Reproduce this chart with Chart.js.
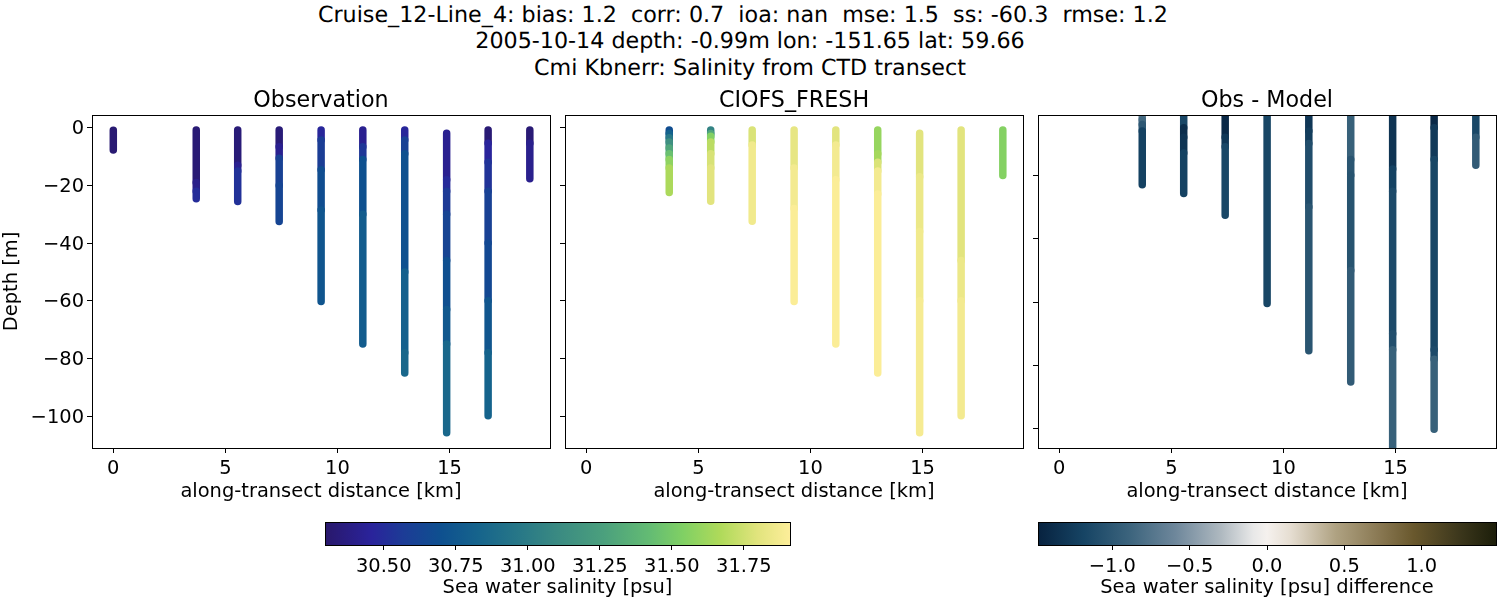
<!DOCTYPE html>
<html><head><meta charset="utf-8">
<script src="https://cdn.jsdelivr.net/npm/chart.js@4"></script>
<style>
html,body{margin:0;padding:0;background:#fff;width:1500px;height:600px;overflow:hidden}
canvas{position:absolute}
.sup{position:absolute;left:0;width:1500px;text-align:center;white-space:pre;font:22.22px/26.6px "DejaVu Sans";color:#000;text-rendering:geometricPrecision}
</style></head><body>
<div class="sup" style="top:1.6px">Cruise_12-Line_4: bias: 1.2  corr: 0.7  ioa: nan  mse: 1.5  ss: -60.3  rmse: 1.2  </div>
<div class="sup" style="top:28.2px">2005-10-14 depth: -0.99m lon: -151.65 lat: 59.66</div>
<div class="sup" style="top:54.8px">Cmi Kbnerr: Salinity from CTD transect</div>
<canvas id="p1"></canvas><canvas id="p2"></canvas><canvas id="p3"></canvas><canvas id="c1"></canvas><canvas id="c2"></canvas>
<script>
const stations=[0,3.7,5.55,7.4,9.27,11.13,13,14.87,16.72,18.58];
const xTicksStep=5, yTicksStep=20;
const salinityRange=[30.296,31.91], diffRange=[-1.481,1.481];

const obsDepth=[
[-0.9,-7.7],
[-0.8,-19,-22,-24.6],
[-0.8,-13,-15,-25.6],
[-0.8,-6.6,-10.6,-20,-32.5],
[-0.8,-4.3,-14.6,-28.5,-60.2],
[-0.8,-6.6,-11,-30,-75],
[-0.8,-4.3,-9,-50,-78,-85],
[-1.9,-18,-22,-30,-46,-63,-75,-105.7],
[-0.8,-5.4,-12,-22,-40,-60,-78,-99.8],
[-0.8,-5.4,-17.7]];
const obsSalinity=[
[30.32,30.32],
[30.33,30.33,30.40,30.5],
[30.34,30.34,30.42,30.52],
[30.34,30.34,30.42,30.6,30.63],
[30.47,30.47,30.58,30.68,30.73],
[30.42,30.42,30.55,30.7,30.78],
[30.47,30.47,30.6,30.7,30.8,30.85],
[30.42,30.42,30.49,30.56,30.62,30.69,30.75,30.85],
[30.33,30.33,30.46,30.53,30.6,30.65,30.74,30.82],
[30.33,30.33,30.41]];

const modelDepth=[
null,
[-0.8,-2,-3.5,-5,-7,-9,-11,-14,-22.5],
[-0.8,-2,-3,-5,-9,-14,-25.5],
[-0.8,-6,-32.4],
[-0.8,-14,-28,-60.2],
[-0.8,-6,-18,-75],
[-0.8,-9,-12,-15,-23,-85],
[-1.9,-17,-36,-60,-105.7],
[-0.8,-46,-60,-99.8],
[-0.8,-16.6]];
const modelSalinity=[
null,
[30.68,30.68,30.82,30.98,31.15,31.3,31.45,31.58,31.66],
[31.02,31.05,31.3,31.55,31.7,31.77,31.8],
[31.78,31.78,31.86],
[31.82,31.82,31.87,31.9],
[31.8,31.8,31.87,31.9],
[31.6,31.6,31.64,31.78,31.87,31.9],
[31.8,31.8,31.84,31.86,31.88],
[31.8,31.8,31.84,31.87],
[31.55,31.55]];

const diffDepth=[
null,
[-1,-2.5,-4,-6,-23],
[-1,-5,-8,-13,-25.7],
[-1,-8,-11,-32.6],
[-1,-60.4],
[-1,-6,-10,-30,-75.3],
[-1,-15,-20,-50,-85.2],
[-1,-18,-25,-70,-75,-106],
[-1,-5,-15,-75,-78,-100.1],
[-1,-8,-16.8]];
const diffValue=[
null,
[-0.7,-0.7,-0.85,-1.0,-1.2],
[-1.15,-1.15,-1.38,-1.32,-1.2],
[-1.42,-1.42,-1.3,-1.15],
[-1.2,-1.17],
[-1.3,-1.3,-1.25,-1.1,-1.03],
[-0.92,-0.92,-1.03,-1.05,-0.97],
[-1.32,-1.32,-1.2,-1.13,-1.08,-0.92],
[-1.42,-1.42,-1.27,-1.17,-1.13,-0.92],
[-1.15,-1.15,-0.97]];

const halineStops=[[0,[41,24,107]],[0.1,[42,35,155]],[0.17,[28,60,150]],[0.25,[14,80,143]],[0.33,[22,100,140]],[0.42,[40,120,135]],[0.5,[58,138,130]],[0.6,[75,160,125]],[0.7,[100,188,115]],[0.77,[128,208,100]],[0.85,[175,218,90]],[0.93,[225,228,125]],[1,[253,238,154]]];
const diffStops=[[0,[7,34,63]],[0.1,[22,68,100]],[0.2,[60,100,125]],[0.3,[110,135,155]],[0.4,[175,185,192]],[0.47,[232,232,232]],[0.5,[245,241,238]],[0.55,[230,222,210]],[0.65,[175,162,130]],[0.75,[135,118,80]],[0.82,[105,88,45]],[0.92,[60,55,28]],[1,[28,30,10]]];

const FONT='"DejaVu Sans"', TICK=19.44, TITLE=22.22;
const minus=s=>String(s).replace('-','\u2212');
function colorAt(stops,t){
  t=Math.max(0,Math.min(1,t));
  for(let i=1;i<stops.length;i++){
    if(t<=stops[i][0]){
      const [a,ca]=stops[i-1],[b,cb]=stops[i],f=(t-a)/(b-a);
      return 'rgb('+ca.map((v,k)=>Math.round(v+(cb[k]-v)*f)).join(',')+')';
    }
  }
  return 'rgb('+stops[stops.length-1][1].join(',')+')';
}
const frame={id:'frame',afterDatasetsDraw(c){
  const a=c.chartArea,x=c.ctx;x.save();x.strokeStyle='#000';x.lineWidth=1;
  x.strokeRect(a.left+.5,a.top+.5,a.right-a.left,a.bottom-a.top);x.restore();}};
function panel(id,title,left,leftW,depths,vals,stops,range,ymin,ymax,showY){
  const cv=document.getElementById(id);
  const areaW=458,areaH=333,W=leftW+areaW+6,H=27+areaH+56;
  cv.width=W;cv.height=H;cv.style.left=(left-leftW)+'px';cv.style.top='88px';
  const datasets=[];
  stations.forEach((s,i)=>{
    if(!depths[i])return;
    const col=k=>colorAt(stops,(vals[i][k]-range[0])/(range[1]-range[0]));
    datasets.push({data:depths[i].map(d=>({x:s,y:d})),borderColor:col(0),borderWidth:7.5,borderCapStyle:'round',
      pointRadius:0,tension:0,clip:0,
      segment:{borderColor:c=>col(c.p1DataIndex),borderCapStyle:'round'}});
  });
  new Chart(cv,{type:'line',data:{datasets},plugins:[frame],options:{
    responsive:false,maintainAspectRatio:false,animation:false,
    layout:{padding:{left:0,right:6,top:0,bottom:0}},
    plugins:{legend:{display:false},tooltip:{enabled:false},
      title:{display:true,fullSize:false,text:title,color:'#000',font:{family:FONT,size:TITLE,weight:'normal',lineHeight:'27px'},padding:0}},
    scales:{
      x:{type:'linear',min:-0.95,max:19.48,afterFit(s){s.height=56},
        border:{display:false},grid:{drawOnChartArea:false,drawTicks:true,tickLength:5,color:'#000'},
        ticks:{stepSize:xTicksStep,includeBounds:false,autoSkip:false,maxRotation:0,padding:4,color:'#000',font:{family:FONT,size:TICK}},
        title:{display:true,text:'along-transect distance [km]',color:'#000',font:{family:FONT,size:TICK},padding:0}},
      y:{type:'linear',min:ymin,max:ymax,afterFit(s){s.width=leftW},
        border:{display:false},grid:{drawOnChartArea:false,drawTicks:true,tickLength:5,color:'#000'},
        ticks:{stepSize:yTicksStep,includeBounds:false,autoSkip:false,padding:3,labelOffset:1.5,color:'#000',font:{family:FONT,size:TICK},
          callback:v=>showY?minus(v):''},
        title:{display:showY,text:'Depth [m]',color:'#000',font:{family:FONT,size:TICK},padding:0}}
    }}});
}
panel('p1','Observation',92,92,obsDepth,obsSalinity,halineStops,salinityRange,-111,4.4,true);
panel('p2','CIOFS_FRESH',565,6,modelDepth,modelSalinity,halineStops,salinityRange,-111,4.4,false);
panel('p3','Obs - Model',1038,6,diffDepth,diffValue,diffStops,diffRange,-106,-0.98,false);

function colorbar(id,left,width,stops,range,step,dec,label){
  const cv=document.getElementById(id);
  cv.width=width+4;cv.height=2+23+55;cv.style.left=(left-2)+'px';cv.style.top='520px';
  new Chart(cv,{type:'bar',data:{labels:[''],datasets:[{data:[range],barPercentage:1,categoryPercentage:1,borderWidth:0,
    backgroundColor(c){
      const a=c.chart.chartArea; if(!a)return '#888';
      const g=c.chart.ctx.createLinearGradient(a.left,0,a.right,0);
      stops.forEach(s=>g.addColorStop(s[0],'rgb('+s[1].join(',')+')'));
      return g;}}]},
    plugins:[frame],options:{indexAxis:'y',responsive:false,maintainAspectRatio:false,animation:false,
    layout:{padding:{left:2,right:2,top:2,bottom:0}},
    plugins:{legend:{display:false},tooltip:{enabled:false},title:{display:false}},
    scales:{
      y:{display:false},
      x:{type:'linear',min:range[0],max:range[1],afterFit(s){s.height=55},
        border:{display:false},grid:{drawOnChartArea:false,drawTicks:true,tickLength:5,color:'#000'},
        ticks:{stepSize:step,includeBounds:false,autoSkip:false,maxRotation:0,padding:5,color:'#000',font:{family:FONT,size:TICK},
          callback:v=>minus(v.toFixed(dec))},
        title:{display:true,text:label,color:'#000',font:{family:FONT,size:TICK},padding:0}}
    }}});
}
colorbar('c1',325,465,halineStops,salinityRange,0.25,2,'Sea water salinity [psu]');
colorbar('c2',1038,458,diffStops,diffRange,0.5,1,'Sea water salinity [psu] difference');
</script></body></html>
